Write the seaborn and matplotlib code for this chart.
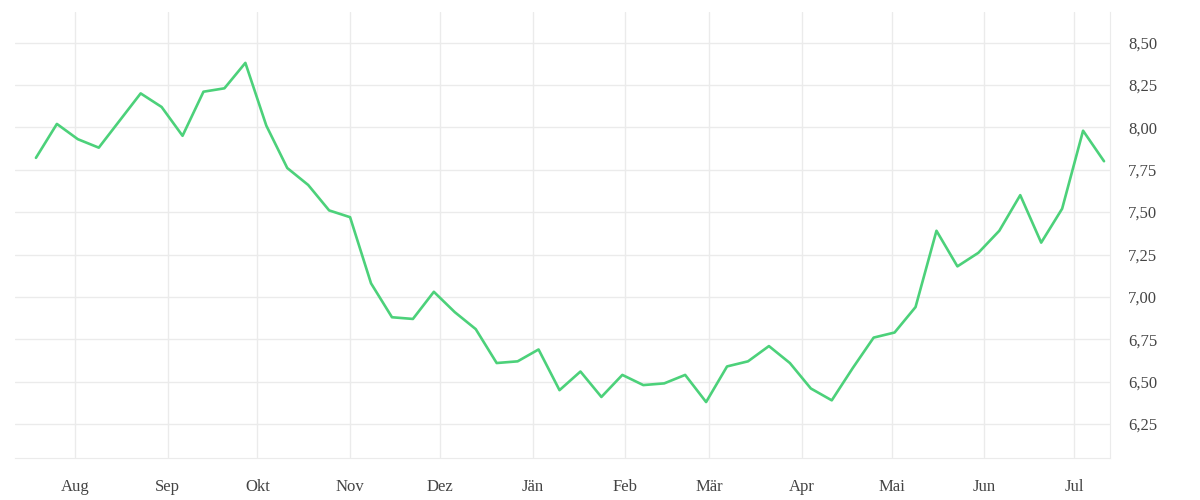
import pandas as pd
import matplotlib.pyplot as plt
from matplotlib.ticker import FuncFormatter
import seaborn as sns

# Weekly values
start_date = '2022-07-19'
values = [7.82, 8.02, 7.93, 7.88, 8.04, 8.20, 8.12, 7.95, 8.21, 8.23,
          8.38, 8.01, 7.76, 7.66, 7.51, 7.47, 7.08, 6.88, 6.87, 7.03,
          6.91, 6.81, 6.61, 6.62, 6.69, 6.45, 6.56, 6.41, 6.54, 6.48,
          6.49, 6.54, 6.38, 6.59, 6.62, 6.71, 6.61, 6.46, 6.39, 6.58,
          6.76, 6.79, 6.94, 7.39, 7.18, 7.26, 7.39, 7.60, 7.32, 7.52,
          7.98, 7.80]
month_ticks = ['2022-08-01', '2022-09-01', '2022-10-01', '2022-11-01', '2022-12-01',
               '2023-01-01', '2023-02-01', '2023-03-01', '2023-04-01', '2023-05-01',
               '2023-06-01', '2023-07-01']
month_labels = ['Aug', 'Sep', 'Okt', 'Nov', 'Dez', 'Jän', 'Feb', 'Mär', 'Apr', 'Mai', 'Jun', 'Jul']
y_ticks = [6.25, 6.50, 6.75, 7.00, 7.25, 7.50, 7.75, 8.00, 8.25, 8.50]

df = pd.DataFrame({'date': pd.date_range(start_date, periods=len(values), freq='7D'),
                   'value': values})

sns.set_style('white')
plt.rcParams['font.family'] = ['Liberation Serif', 'DejaVu Serif']
grid_col = '#ebebeb'

fig, ax = plt.subplots(figsize=(12, 5), dpi=100)
fig.subplots_adjust(left=0.0125, right=0.925, top=0.976, bottom=0.084)

sns.lineplot(data=df, x='date', y='value', ax=ax, color='#4cd17a', linewidth=1.9)

ax.set_xlim(pd.Timestamp('2022-07-12'), pd.Timestamp('2023-07-13'))
ax.set_ylim(6.05, 8.68)
ax.set_xticks(pd.to_datetime(month_ticks))
ax.set_xticklabels(month_labels)
ax.set_yticks(y_ticks)
ax.yaxis.set_major_formatter(FuncFormatter(lambda v, p: f'{v:.2f}'.replace('.', ',')))
ax.yaxis.tick_right()

ax.grid(True, color=grid_col, linewidth=1)
ax.set_axisbelow(True)
for side in ['top', 'left']:
    ax.spines[side].set_visible(False)
ax.spines['bottom'].set_color(grid_col)
ax.spines['right'].set_color(grid_col)

ax.tick_params(axis='x', length=7, color=grid_col, pad=8, labelsize=12, labelcolor='#444444')
ax.tick_params(axis='y', length=0, pad=13, labelsize=12, labelcolor='#444444')
ax.set_xlabel('')
ax.set_ylabel('')

plt.savefig('out.png')
